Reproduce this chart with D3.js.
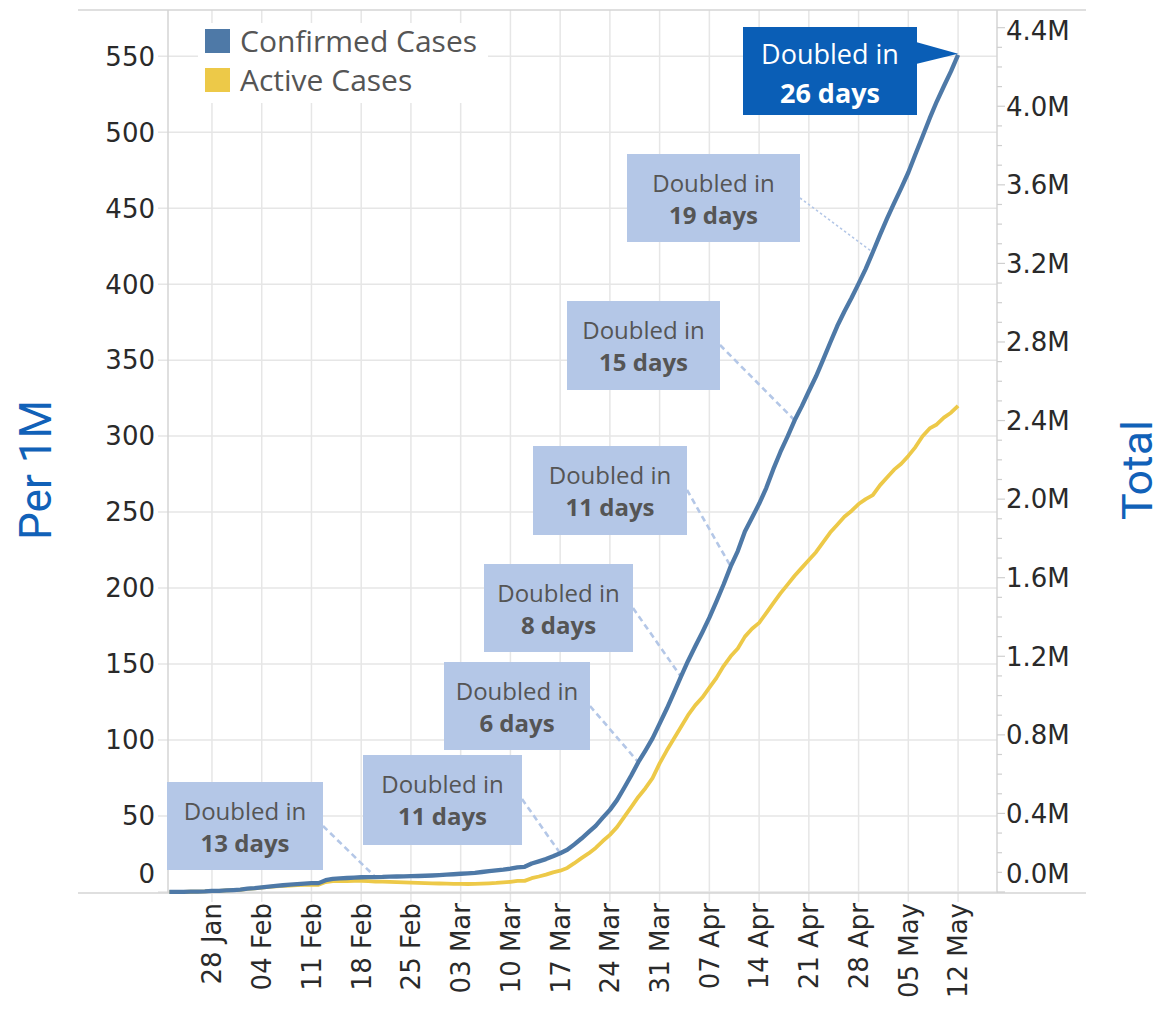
<!DOCTYPE html>
<html>
<head>
<meta charset="utf-8">
<script src="https://cdn.jsdelivr.net/npm/d3@7"></script>
<style>
  body { margin: 0; background: #fff; }
  svg { display: block; }
</style>
</head>
<body>
<svg id="drawing_region"></svg>
<script>
// world totals, one value per day from 22 Jan 2020
const startDay = Date.UTC(2020, 0, 22);
const confirmed = [
  555, 654, 941, 1434, 2118, 2927, 5578, 6166, 8234, 9927,
  12038, 16787, 19881, 23892, 27635, 30794, 34391, 37120, 40150, 42762,
  44802, 45221, 60368, 66885, 69030, 71224, 73258, 75136, 75639, 76197,
  76819, 78572, 78958, 79561, 80406, 81388, 82746, 84112, 86011, 88369,
  90306, 92840, 95120, 97886, 101801, 105847, 109821, 113590, 118620, 125875,
  128352, 145205, 156101, 167454, 181574, 197102, 214821, 242570, 272208, 304507,
  336953, 378231, 418041, 467653, 529591, 593291, 660706, 720117, 782365, 857487,
  932605, 1013157, 1095917, 1176060, 1249754, 1321481, 1396476, 1479804, 1565278, 1657526,
  1735650, 1834721, 1904838, 1976191, 2056054, 2152437, 2240190, 2317758, 2401378, 2472259,
  2549294, 2624068, 2708885, 2795925, 2881140, 2955033, 3023722, 3097229, 3172287, 3256846,
  3343777, 3427584, 3506729, 3583055, 3662691, 3755341, 3845718, 3938064, 4024009, 4101699,
  4177502, 4261747
];
const active = [
  510, 606, 879, 1353, 2010, 2784, 5340, 5908, 7922, 9495,
  11494, 15987, 18710, 22439, 25685, 28108, 30852, 32650, 34557, 35989,
  36963, 36780, 50645, 55130, 55658, 55994, 56513, 56480, 55020, 53310,
  52560, 51630, 50230, 49020, 47330, 46240, 44750, 43470, 43370, 42720,
  41740, 41130, 40750, 40950, 42520, 44250, 46120, 48830, 51840, 56510,
  56720, 70420, 78930, 88350, 100100, 108400, 122700, 146700, 172400, 196300,
  224600, 259400, 290900, 330300, 381400, 431700, 483900, 528500, 580000, 655000,
  720000, 780000, 840000, 900000, 950000, 990000, 1040000, 1090000, 1150000, 1200000,
  1240000, 1300000, 1340000, 1370000, 1420000, 1470000, 1520000, 1565000, 1610000, 1650000,
  1690000, 1730000, 1780000, 1830000, 1870000, 1910000, 1940000, 1975000, 2000000, 2020000,
  2070000, 2110000, 2150000, 2180000, 2220000, 2265000, 2320000, 2360000, 2380000, 2415000,
  2440000, 2475000
];
const worldPopM = 7736;   // millions, for the "Per 1M" axis
const seriesNames = ["Confirmed Cases", "Active Cases"];
const perMillionTicks = [0, 50, 100, 150, 200, 250, 300, 350, 400, 450, 500, 550];
const totalTicks = [0, 0.4e6, 0.8e6, 1.2e6, 1.6e6, 2.0e6, 2.4e6, 2.8e6, 3.2e6, 3.6e6, 4.0e6, 4.4e6];

// doubling-time call-outs: days label and the day on the confirmed curve they point at
const doubledDays = [13, 11, 6, 8, 11, 15, 19, 26];
const doubledAt = ["2020-02-20", "2020-03-17", "2020-03-28", "2020-04-03", "2020-04-10", "2020-04-19", "2020-04-30", "2020-05-12"];

const config = {
  width: 1163, height: 1010,
  left: 168, right: 997, top: 10, bottom: 892,
  colors: ["#4e79a7", "#edc948"],
  boxes: [
    [167, 782, 156, 88], [363, 755, 159, 90], [444, 662, 146, 88], [484, 564, 149, 88],
    [533, 446, 154, 89], [567, 301, 153, 89], [627, 154, 173, 88], [743, 27, 174, 88]
  ]
};

const dates = confirmed.map((d, i) => new Date(startDay + i * 864e5));
const rows = dates.map((d, i) => ({ date: d, confirmed: confirmed[i], active: active[i] }));

const svg = d3.select("#drawing_region")
  .attr("width", config.width)
  .attr("height", config.height)
  .style("font-family", "'DejaVu Sans', Verdana, sans-serif");

const day0 = Date.UTC(2020, 0, 28);
const xscale = d3.scaleUtc()
  .domain([new Date(day0 - 6.19 * 864e5), new Date(day0 + 110.48 * 864e5)])
  .range([config.left, config.right]);

const totalMax = 4.49e6;
const ytotal = d3.scaleLinear().domain([0, totalMax]).range([config.bottom, config.top]);
const yper = d3.scaleLinear().domain([0, totalMax / worldPopM]).range([config.bottom, config.top]);

const weeks = d3.range(0, 16).map(i => new Date(day0 + i * 7 * 864e5));

// grid
const grid = svg.append("g").attr("stroke", "#e6e6e6").attr("stroke-width", 1.5);
grid.selectAll(".hg").data(perMillionTicks).join("line")
  .attr("x1", config.left - 10).attr("x2", config.right)
  .attr("y1", d => yper(d)).attr("y2", d => yper(d));
grid.selectAll(".vg").data(weeks).join("line")
  .attr("x1", d => xscale(d)).attr("x2", d => xscale(d))
  .attr("y1", config.top).attr("y2", config.bottom + 10);

// frame
const frame = svg.append("g").attr("stroke", "#d4d4d4").attr("stroke-width", 1.5);
frame.append("line").attr("x1", 78).attr("x2", 1086).attr("y1", config.top).attr("y2", config.top);
frame.append("line").attr("x1", 78).attr("x2", 1086).attr("y1", config.bottom + 1).attr("y2", config.bottom + 1);
frame.append("line").attr("x1", config.left).attr("x2", config.left).attr("y1", config.top).attr("y2", config.bottom + 1);
frame.append("line").attr("x1", config.right).attr("x2", config.right).attr("y1", config.top).attr("y2", config.bottom + 1);

// right axis ticks (0.1M minor)
const minor = d3.range(0, 45).map(i => i * 1e5);
svg.append("g").attr("stroke", "#cfcfcf").attr("stroke-width", 1.2)
  .selectAll("line").data(minor).join("line")
  .attr("x1", config.right).attr("x2", d => config.right + (Math.round(d / 1e5) % 4 === 0 ? 8 : 5))
  .attr("y1", d => ytotal(d)).attr("y2", d => ytotal(d));

// axis labels
svg.append("g").selectAll("text").data(perMillionTicks).join("text")
  .attr("x", 155)
  .attr("y", d => Math.min(yper(d), 874))
  .attr("dy", "0.36em")
  .attr("text-anchor", "end")
  .attr("font-size", 26).attr("fill", "#2a2a2a")
  .text(d => d);

svg.append("g").selectAll("text").data(totalTicks).join("text")
  .attr("x", 1006)
  .attr("y", d => Math.max(Math.min(ytotal(d), 874), 31))
  .attr("dy", "0.36em")
  .attr("font-size", 26).attr("fill", "#2a2a2a")
  .text(d => (d / 1e6).toFixed(1) + "M");

const fmt = d3.utcFormat("%d %b");
svg.append("g").selectAll("text").data(weeks).join("text")
  .attr("transform", d => `translate(${xscale(d)},${config.bottom + 11}) rotate(-90)`)
  .attr("dy", "0.36em")
  .attr("text-anchor", "end")
  .attr("font-size", 26).attr("fill", "#2a2a2a")
  .text(d => fmt(d));

// axis titles
svg.append("text")
  .attr("transform", "translate(51,470) rotate(-90)")
  .attr("text-anchor", "middle")
  .attr("font-family", "'Liberation Sans Narrow', 'Roboto', sans-serif")
  .attr("font-size", 44).attr("fill", "#1161b8")
  .attr("textLength", 140).attr("lengthAdjust", "spacingAndGlyphs")
  .text("Per 1M");
svg.append("text")
  .attr("transform", "translate(1152,470) rotate(-90)")
  .attr("text-anchor", "middle")
  .attr("font-family", "'Liberation Sans Narrow', 'Roboto', sans-serif")
  .attr("font-size", 42).attr("fill", "#1161b8")
  .attr("textLength", 100).attr("lengthAdjust", "spacingAndGlyphs")
  .text("Total");

// call-out boxes and pointers
const parse = d3.utcParse("%Y-%m-%d");
const byDate = new Map(rows.map(r => [+r.date, r]));
const notes = doubledDays.map((n, i) => {
  const r = byDate.get(+parse(doubledAt[i]));
  const b = config.boxes[i];
  return { n, tx: xscale(r.date), ty: ytotal(r.confirmed), x: b[0], y: b[1], w: b[2], h: b[3], last: i === doubledDays.length - 1 };
});

const pointers = svg.append("g");
notes.filter(d => !d.last).forEach(d => {
  pointers.append("line")
    .attr("x1", d.x + d.w).attr("y1", d.y + 44)
    .attr("x2", d.tx).attr("y2", d.ty)
    .attr("stroke", "#b4c7e7")
    .attr("stroke-width", d.n === 19 ? 1.6 : 2.6)
    .attr("stroke-dasharray", d.n === 19 ? "2.5,2.5" : "6,4");
});

// lines
const lineC = d3.line().x(d => xscale(d.date)).y(d => ytotal(d.confirmed));
const lineA = d3.line().x(d => xscale(d.date)).y(d => ytotal(d.active));
svg.append("path").attr("d", lineA(rows)).attr("fill", "none")
  .attr("stroke", config.colors[1]).attr("stroke-width", 3.8).attr("stroke-linejoin", "round");
svg.append("path").attr("d", lineC(rows)).attr("fill", "none")
  .attr("stroke", config.colors[0]).attr("stroke-width", 4.3).attr("stroke-linejoin", "round");

const boxes = svg.append("g").style("font-family", "'Open Sans', 'Noto Sans', sans-serif");
notes.forEach(d => {
  const g = boxes.append("g");
  const fill = d.last ? "#0a5eb6" : "#b4c7e7";
  g.append("rect").attr("x", d.x).attr("y", d.y).attr("width", d.w).attr("height", d.h).attr("fill", fill);
  if (d.last) {
    g.append("path")
      .attr("d", `M${d.x + d.w - 1},${d.y + 15}L${d.tx},${d.ty - 1}L${d.x + d.w - 1},${d.y + 37}Z`)
      .attr("fill", fill);
  }
  const fs = d.last ? 27 : 24;
  g.append("text").attr("x", d.x + d.w / 2).attr("y", d.y + (d.last ? 37 : 38))
    .attr("text-anchor", "middle").attr("font-size", fs)
    .attr("fill", d.last ? "#fff" : "#555")
    .text("Doubled in");
  g.append("text").attr("x", d.x + d.w / 2).attr("y", d.y + (d.last ? 76 : 70))
    .attr("text-anchor", "middle").attr("font-size", fs).attr("font-weight", "bold")
    .attr("fill", d.last ? "#fff" : "#555")
    .text(d.n + " days");
});

// legend
const legend = svg.append("g").style("font-family", "'Open Sans', 'Noto Sans', sans-serif");
legend.append("rect").attr("x", 198).attr("y", 23).attr("width", 290).attr("height", 80).attr("fill", "#fff");
legend.selectAll(".sw").data(seriesNames).join("rect")
  .attr("x", 205).attr("y", (d, i) => 29 + i * 39)
  .attr("width", 25).attr("height", 24)
  .attr("fill", (d, i) => config.colors[i]);
legend.selectAll("text").data(seriesNames).join("text")
  .attr("x", 240).attr("y", (d, i) => 52 + i * 39)
  .attr("font-size", 30).attr("fill", "#555")
  .text(d => d);
</script>
</body>
</html>
